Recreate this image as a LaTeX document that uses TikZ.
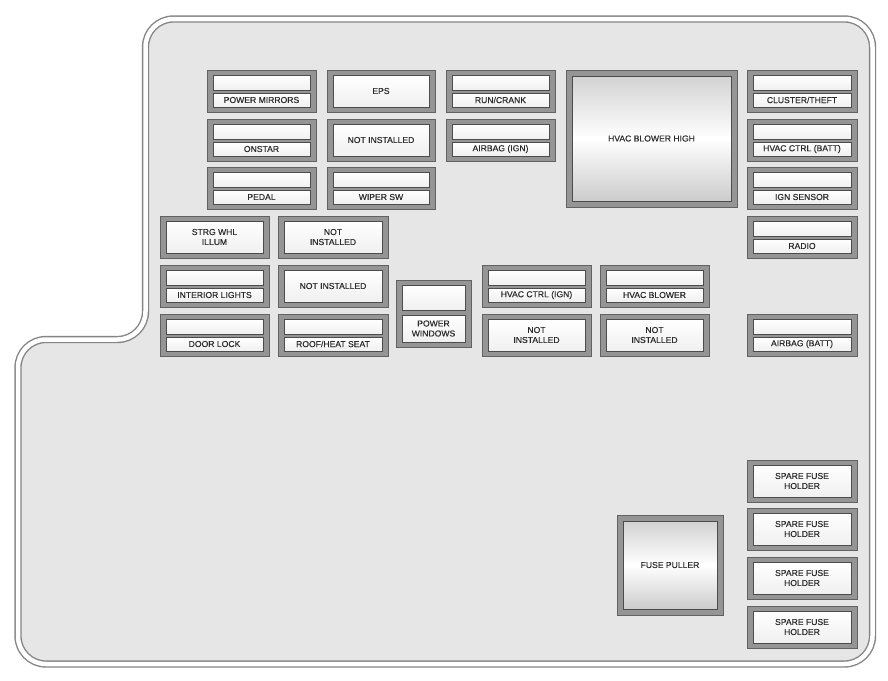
\documentclass[tikz,border=0pt]{standalone}
\usepackage{fontspec}
\setmainfont{Liberation Sans}
\newfontfamily\lblfont[FakeBold=0.25]{Liberation Sans}
\definecolor{panel}{HTML}{E6E6E6}
\definecolor{rim}{HTML}{858585}
\definecolor{band}{HTML}{959595}
\definecolor{bandedge}{HTML}{626262}
\definecolor{slotedge}{HTML}{4C4C4C}
\definecolor{ink}{HTML}{2A2A2A}
\tikzset{
  outline/.style={draw=rim, line width=1.4, double=white, double distance=4.5, fill=panel, rounded corners=28},
  frame/.style={rectangle, draw=bandedge, fill=band, line width=1, inner sep=0, outer sep=0},
  slot/.style={rectangle, draw=slotedge, line width=0.8, top color=white, bottom color=gray!12, inner sep=0, outer sep=0},
  bigslot/.style={rectangle, draw=slotedge, line width=0.8, top color=gray!35, bottom color=gray!40, middle color=white, inner sep=0, outer sep=0},
  lbl/.style={font=\lblfont\fontsize{8.6}{10}\selectfont, text=ink, align=center, inner sep=0},
}
% double-slot fuse: name, x, y, width, label
\newcommand\fuseD[5]{%
  \node[frame, anchor=north west, minimum width=#4, minimum height=42] (#1) at (#2,#3) {};
  \node[slot, anchor=north west, minimum width=#4-12, minimum height=15] (#1-top) at (#2+6,#3+5) {};
  \node[slot, anchor=north west, minimum width=#4-12, minimum height=14] (#1-bot) at (#2+6,#3+23) {};
  \node[lbl] (#1-lbl) at (#1-bot) {#5};
}
% single-slot fuse: name, x, y, width, label
\newcommand\fuseS[5]{%
  \node[frame, anchor=north west, minimum width=#4, minimum height=42] (#1) at (#2,#3) {};
  \node[slot, anchor=north west, minimum width=#4-12, minimum height=32] (#1-in) at (#2+6,#3+5) {};
  \node[lbl] (#1-lbl) at (#1-in) {#5};
}
% big block: name, x, y, width, height, label
\newcommand\fuseBig[6]{%
  \node[frame, anchor=north west, minimum width=#4, minimum height=#5] (#1) at (#2,#3) {};
  \node[bigslot, anchor=north west, minimum width=#4-12, minimum height=#5-12] (#1-in) at (#2+6,#3+6) {};
  \node[lbl] (#1-lbl) at (#1-in) {#6};
}
\begin{document}
\begin{tikzpicture}[x=1pt, y=-1pt]
\useasboundingbox (0,0) rectangle (888,680);
\fill[white] (0,0) rectangle (888,680);
% panel outline
\path[outline] (145.5,200) -- (145.5,19) -- (872.5,19) -- (872.5,664) -- (18,664) -- (18,339.5) -- (145.5,339.5) -- cycle;
% row 1
\fuseD{pm}{207}{70}{109}{POWER MIRRORS}
\fuseS{eps}{327}{70}{108}{EPS}
\fuseD{run}{446}{70}{109}{RUN/CRANK}
\fuseBig{hbh}{566}{70}{171}{137}{HVAC BLOWER HIGH}
\fuseD{clu}{747}{70}{110}{CLUSTER/THEFT}
% row 2
\fuseD{ons}{207}{119}{109}{ONSTAR}
\fuseS{nia}{327}{119}{108}{NOT INSTALLED}
\fuseD{abi}{446}{119}{109}{AIRBAG (IGN)}
\fuseD{hcb}{747}{119}{110}{HVAC CTRL (BATT)}
% row 3
\fuseD{ped}{207}{167}{109}{PEDAL}
\fuseD{wip}{327}{167}{108}{WIPER SW}
\fuseD{ign}{747}{167}{110}{IGN SENSOR}
% row 4
\fuseS{swl}{160}{216}{109}{STRG WHL\\ILLUM}
\fuseS{nib}{278}{216}{110}{NOT\\INSTALLED}
\fuseD{rad}{747}{216}{110}{RADIO}
% row 5
\fuseD{int}{160}{265}{109}{INTERIOR LIGHTS}
\fuseS{nic}{278}{265}{110}{NOT INSTALLED}
\fuseD{hci}{482}{265}{109}{HVAC CTRL (IGN)}
\fuseD{hvb}{600}{265}{109}{HVAC BLOWER}
% power windows
\node[frame, anchor=north west, minimum width=75, minimum height=67] (pw) at (396,280) {};
\node[slot, anchor=north west, minimum width=63, minimum height=25] (pw-top) at (402,285) {};
\node[slot, anchor=north west, minimum width=63, minimum height=27] (pw-bot) at (402,315) {};
\node[lbl] (pw-lbl) at (pw-bot) {POWER\\WINDOWS};
% row 6
\fuseD{dl}{160}{314}{109}{DOOR LOCK}
\fuseD{rhs}{278}{314}{110}{ROOF/HEAT SEAT}
\fuseS{nid}{482}{314}{109}{NOT\\INSTALLED}
\fuseS{nie}{600}{314}{109}{NOT\\INSTALLED}
\fuseD{abb}{747}{314}{110}{AIRBAG (BATT)}
% spares and puller
\fuseS{spa}{747}{460}{110}{SPARE FUSE\\HOLDER}
\fuseS{spb}{747}{508}{110}{SPARE FUSE\\HOLDER}
\fuseS{spc}{747}{557}{110}{SPARE FUSE\\HOLDER}
\fuseS{spd}{747}{606}{110}{SPARE FUSE\\HOLDER}
\fuseBig{fp}{617}{515}{106}{100}{FUSE PULLER}
\end{tikzpicture}
\end{document}
